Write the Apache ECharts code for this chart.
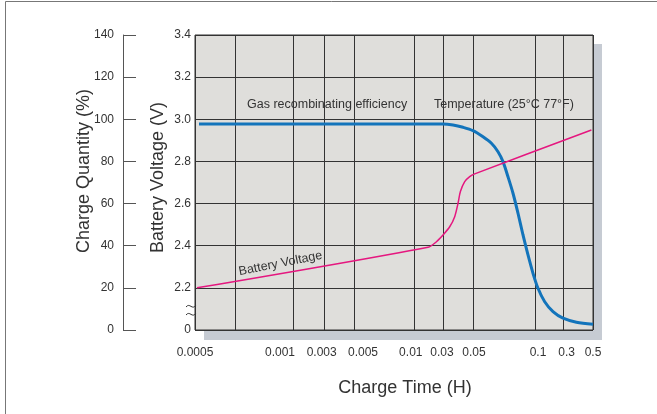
<!DOCTYPE html>
<html><head><meta charset="utf-8">
<script src="https://cdn.jsdelivr.net/npm/echarts@6/dist/echarts.min.js"></script>
<style>html,body{margin:0;padding:0;background:#fff}#c{width:657px;height:414px}</style>
</head><body><div id="c"></div>
<script>
// x axis is a non-uniform "charge time" scale; positions are axis units along the plot
const xGridPositions = [0, 40, 98.4, 129.7, 159, 219.7, 248.7, 278, 340.4, 368.4, 398];
const xLabelPositions = [0, 85, 126.7, 168, 215.8, 247, 279, 343, 371.7, 398];
const xLabelTexts = ['0.0005', '0.001', '0.003', '0.005', '0.01', '0.03', '0.05', '0.1', '0.3', '0.5'];

// Gas recombining efficiency (charge quantity %, outer axis)
const effX = [4, 248, 258, 268, 278, 288, 296.4, 303, 308, 313, 318, 323, 328, 333, 338, 343, 349.7, 358, 368, 381.4, 398];
const effY = [97.8, 97.8, 97.3, 96.2, 94.6, 91.7, 88.6, 84.6, 79.9, 72.7, 64.9, 55.4, 45.1, 35.6, 26.9, 19.8, 13.4, 8.7, 5.6, 3.7, 2.7];

// Battery voltage (V)
const voltX = [2, 233, 241.4, 248, 254.7, 259.7, 263, 265.4, 269.7, 274.7, 279.7, 396.4];
const voltY = [2.20, 2.393, 2.419, 2.451, 2.49, 2.538, 2.601, 2.657, 2.704, 2.728, 2.741, 2.949];

const FONT = '"Liberation Sans", Arial, Helvetica, sans-serif';
const chart = echarts.init(document.getElementById('c'), null, {renderer: 'canvas'});
const zip = (a, b) => a.map((v, i) => [v, b[i]]);

function txt(text, x, y, size, opts) {
  opts = opts || {};
  return {
    type: 'text', x: x, y: y, rotation: opts.rotation || 0, z: opts.z || 10,
    style: {
      text: text, fill: opts.color || '#333',
      font: (opts.weight || 'normal') + ' ' + size + 'px ' + FONT,
      align: opts.align || 'left', textAlign: opts.align || 'left',
      verticalAlign: 'middle', textVerticalAlign: 'middle'
    }
  };
}
function tilde(x, y) {
  return {
    type: 'bezierCurve', z: 10,
    shape: {x1: x, y1: y + 1, cpx1: x + 4, cpy1: y - 4, cpx2: x + 6, cpy2: y + 5, x2: x + 10, y2: y - 1},
    style: {stroke: '#333', lineWidth: 1, fill: 'none'}
  };
}

chart.setOption({
  animation: false,
  grid: {
    left: 195, top: 35, width: 398, height: 295,
    show: true, backgroundColor: '#dfdedb', borderColor: '#333', borderWidth: 1
  },
  xAxis: {
    type: 'value', min: 0, max: 398,
    axisLine: {show: false},
    axisTick: {show: false, customValues: xGridPositions},
    splitLine: {show: true, lineStyle: {color: '#333', width: 1}},
    axisLabel: {
      customValues: xLabelPositions, margin: 17, fontSize: 12, color: '#333', fontFamily: FONT,
      formatter: function (v) {
        let best = 0, d = 1e9;
        xLabelPositions.forEach((p, i) => { if (Math.abs(p - v) < d) { d = Math.abs(p - v); best = i; } });
        return xLabelTexts[best];
      }
    }
  },
  yAxis: [
    {
      type: 'value', min: 2.0, max: 3.4, interval: 0.2, position: 'left',
      axisLine: {show: false}, axisTick: {show: false},
      splitLine: {show: true, lineStyle: {color: '#333', width: 1}},
      axisLabel: {
        margin: 4, fontSize: 12, color: '#333', fontFamily: FONT,
        formatter: v => (Math.abs(v - 2.0) < 1e-6 ? '0' : v.toFixed(1))
      }
    },
    {
      type: 'value', min: 0, max: 140, interval: 20, position: 'left', offset: 72,
      axisLine: {show: true, lineStyle: {color: '#555', width: 1}},
      axisTick: {show: true, inside: true, length: 13, lineStyle: {color: '#555', width: 1}},
      splitLine: {show: false},
      axisLabel: {margin: 9, fontSize: 12, color: '#333', fontFamily: FONT}
    }
  ],
  series: [
    {
      name: 'Gas recombining efficiency', type: 'line', yAxisIndex: 1,
      data: zip(effX, effY), showSymbol: false, smooth: 0.3,
      lineStyle: {color: '#1374bb', width: 3}, z: 4
    },
    {
      name: 'Battery Voltage', type: 'line', yAxisIndex: 0,
      data: zip(voltX, voltY), showSymbol: false, smooth: 0.3,
      lineStyle: {color: '#e5177f', width: 1.5}, z: 5
    }
  ],
  graphic: [
    {type: 'rect', z: -1, shape: {x: 204, y: 44, width: 398, height: 296}, style: {fill: '#c6cbd3'}},
    {type: 'rect', z: 20, shape: {x: 5.5, y: 1.5, width: 700, height: 500}, style: {fill: 'none', stroke: '#777', lineWidth: 1}},
    txt('Oxygen Recombination Efficiency', 6, -12.5, 26, {weight: 'bold', color: '#111'}),
    txt('Charge Quantity (%)', 84, 253, 18, {rotation: Math.PI / 2}),
    txt('Battery Voltage (V)', 158, 253, 18, {rotation: Math.PI / 2}),
    txt('Charge Time (H)', 405, 388, 18, {align: 'center'}),
    txt('Gas recombinating efficiency', 247, 105, 12.5),
    txt('Temperature (25°C 77°F)', 434, 105, 12.5),
    txt('Battery Voltage', 280.5, 263.5, 12.5, {align: 'center', rotation: 0.197}),
    tilde(186, 306),
    tilde(186, 314)
  ]
});
</script></body></html>
